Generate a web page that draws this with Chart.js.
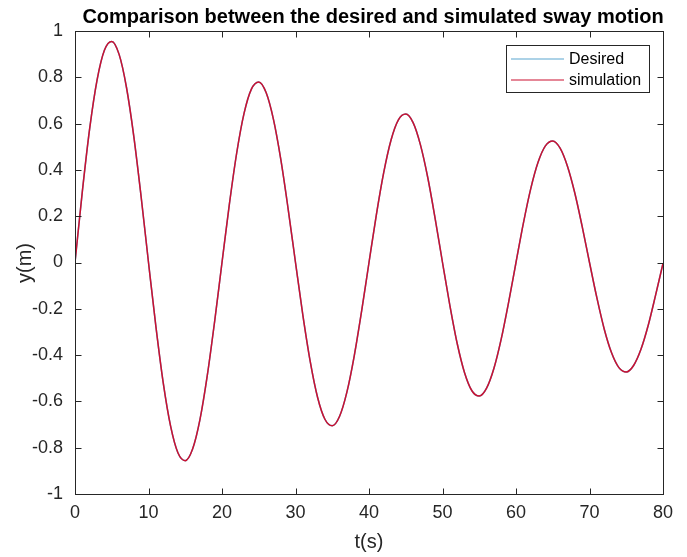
<!DOCTYPE html>
<html>
<head>
<meta charset="utf-8">
<script src="https://cdn.jsdelivr.net/npm/chart.js@4"></script>
<style>
html, body { margin: 0; padding: 0; background: #fff; }
#wrap { width: 687px; height: 557px; }
</style>
</head>
<body>
<div id="wrap"><canvas id="c"></canvas></div>
<script>
// time samples (s)
const time = [0, 1, 2, 3, 4, 5, 6, 7, 8, 9, 10, 11, 12, 13, 14, 15, 16, 17, 18, 19, 20,
  21, 22, 23, 24, 25, 26, 27, 28, 29, 30, 31, 32, 33, 34, 35, 36, 37, 38, 39, 40,
  41, 42, 43, 44, 45, 46, 47, 48, 49, 50, 51, 52, 53, 54, 55, 56, 57, 58, 59, 60,
  61, 62, 63, 64, 65, 66, 67, 68, 69, 70, 71, 72, 73, 74, 75, 76, 77, 78, 79, 80];

// sway y(m)
const desired = [0, 0.307, 0.579, 0.788, 0.917, 0.955, 0.899, 0.757, 0.545, 0.283, 0,
  -0.275, -0.519, -0.706, -0.822, -0.856, -0.806, -0.679, -0.488, -0.254, 0,
  0.251, 0.473, 0.644, 0.749, 0.780, 0.734, 0.618, 0.445, 0.231, 0,
  -0.227, -0.427, -0.582, -0.677, -0.705, -0.664, -0.559, -0.402, -0.209, 0,
  0.206, 0.388, 0.529, 0.616, 0.641, 0.604, 0.508, 0.366, 0.190, 0,
  -0.185, -0.350, -0.476, -0.554, -0.577, -0.543, -0.457, -0.329, -0.171, 0,
  0.169, 0.318, 0.433, 0.504, 0.525, 0.494, 0.416, 0.300, 0.156, 0,
  -0.152, -0.287, -0.390, -0.454, -0.473, -0.445, -0.375, -0.270, -0.140, -0.004];

const simulation = [0, 0.307, 0.579, 0.788, 0.917, 0.955, 0.899, 0.757, 0.545, 0.283, 0,
  -0.275, -0.519, -0.706, -0.822, -0.856, -0.806, -0.679, -0.488, -0.254, 0,
  0.251, 0.473, 0.644, 0.749, 0.780, 0.734, 0.618, 0.445, 0.231, 0,
  -0.227, -0.427, -0.582, -0.677, -0.705, -0.664, -0.559, -0.402, -0.209, 0,
  0.206, 0.388, 0.529, 0.616, 0.641, 0.604, 0.508, 0.366, 0.190, 0,
  -0.185, -0.350, -0.476, -0.554, -0.577, -0.543, -0.457, -0.329, -0.171, 0,
  0.169, 0.318, 0.433, 0.504, 0.525, 0.494, 0.416, 0.300, 0.156, 0,
  -0.152, -0.287, -0.390, -0.454, -0.473, -0.445, -0.375, -0.270, -0.140, -0.004];

const xTicks = [0, 10, 20, 30, 40, 50, 60, 70, 80];
const yTicks = [-1, -0.8, -0.6, -0.4, -0.2, 0, 0.2, 0.4, 0.6, 0.8, 1];

const axisColor = '#262626';
const fontFamily = '"Liberation Sans", Arial, Helvetica, sans-serif';

// MATLAB-like box, inward ticks, title, axis labels and legend
const matlabFrame = {
  id: 'matlabFrame',
  afterDraw(chart) {
    const { ctx, chartArea: a, scales } = chart;
    ctx.save();
    ctx.strokeStyle = axisColor;
    ctx.lineWidth = 1;
    const L = Math.round(a.left) + 0.5, R = Math.round(a.right) + 0.5;
    const T = Math.round(a.top) + 0.5, B = Math.round(a.bottom) + 0.5;
    ctx.strokeRect(L, T, R - L, B - T);

    const tl = 6;
    ctx.beginPath();
    xTicks.forEach(v => {
      const px = Math.round(scales.x.getPixelForValue(v)) + 0.5;
      ctx.moveTo(px, B); ctx.lineTo(px, B - tl);
      ctx.moveTo(px, T); ctx.lineTo(px, T + tl);
    });
    yTicks.forEach(v => {
      const py = Math.round(scales.y.getPixelForValue(v)) + 0.5;
      ctx.moveTo(L, py); ctx.lineTo(L + tl, py);
      ctx.moveTo(R, py); ctx.lineTo(R - tl, py);
    });
    ctx.stroke();

    // title
    ctx.fillStyle = '#000';
    ctx.font = 'bold 20px ' + fontFamily;
    ctx.textAlign = 'center';
    ctx.textBaseline = 'middle';
    ctx.fillText('Comparison between the desired and simulated sway motion', 373, 17);

    // axis titles
    ctx.fillStyle = axisColor;
    ctx.font = '20px ' + fontFamily;
    ctx.fillText('t(s)', 369, 542);
    ctx.save();
    ctx.translate(25, 263);
    ctx.rotate(-Math.PI / 2);
    ctx.fillText('y(m)', 0, 0);
    ctx.restore();

    // legend
    const lx = 506.5, ly = 45.5, lw = 143, lh = 47;
    ctx.fillStyle = '#fff';
    ctx.fillRect(lx, ly, lw, lh);
    ctx.strokeStyle = axisColor;
    ctx.strokeRect(lx, ly, lw, lh);
    ctx.font = '16px ' + fontFamily;
    ctx.textAlign = 'left';
    const rows = [0, 1].map(i => chart.data.datasets[i]);
    rows.forEach((ds, i) => {
      const y = 59 + i * 21;
      ctx.strokeStyle = ds.borderColor;
      ctx.lineWidth = 1.2;
      ctx.beginPath();
      ctx.moveTo(511, y); ctx.lineTo(564, y);
      ctx.stroke();
      ctx.fillStyle = '#000';
      ctx.fillText(ds.label, 569, y + 1);
    });
    ctx.restore();
  }
};

new Chart(document.getElementById('c'), {
  type: 'line',
  data: {
    datasets: [
      {
        label: 'Desired',
        data: time.map((t, i) => ({ x: t, y: desired[i] })),
        borderColor: '#5aa6cf',
        borderWidth: 1.5,
        pointRadius: 0,
        cubicInterpolationMode: 'monotone',
        order: 1
      },
      {
        label: 'simulation',
        data: time.map((t, i) => ({ x: t, y: simulation[i] })),
        borderColor: '#cc1030',
        borderWidth: 1.5,
        pointRadius: 0,
        cubicInterpolationMode: 'monotone',
        order: 0
      }
    ]
  },
  options: {
    responsive: true,
    maintainAspectRatio: false,
    animation: false,
    layout: { padding: { top: 31, right: 24, left: 0, bottom: 0 } },
    plugins: {
      legend: { display: false },
      title: { display: false },
      tooltip: { enabled: false }
    },
    scales: {
      x: {
        type: 'linear',
        min: 0,
        max: 80,
        afterFit: s => { s.height = 63; },
        afterBuildTicks: s => { s.ticks = xTicks.map(v => ({ value: v })); },
        grid: { display: false, drawTicks: false },
        border: { display: false },
        ticks: {
          color: axisColor,
          padding: 8,
          maxRotation: 0,
          font: { family: fontFamily, size: 18 }
        }
      },
      y: {
        type: 'linear',
        min: -1,
        max: 1,
        afterFit: s => { s.width = 75; },
        afterBuildTicks: s => { s.ticks = yTicks.map(v => ({ value: v })); },
        grid: { display: false, drawTicks: false },
        border: { display: false },
        ticks: {
          color: axisColor,
          padding: 12,
          font: { family: fontFamily, size: 18 },
          callback: v => String(parseFloat(v.toFixed(1)))
        }
      }
    }
  },
  plugins: [matlabFrame]
});
</script>
</body>
</html>
